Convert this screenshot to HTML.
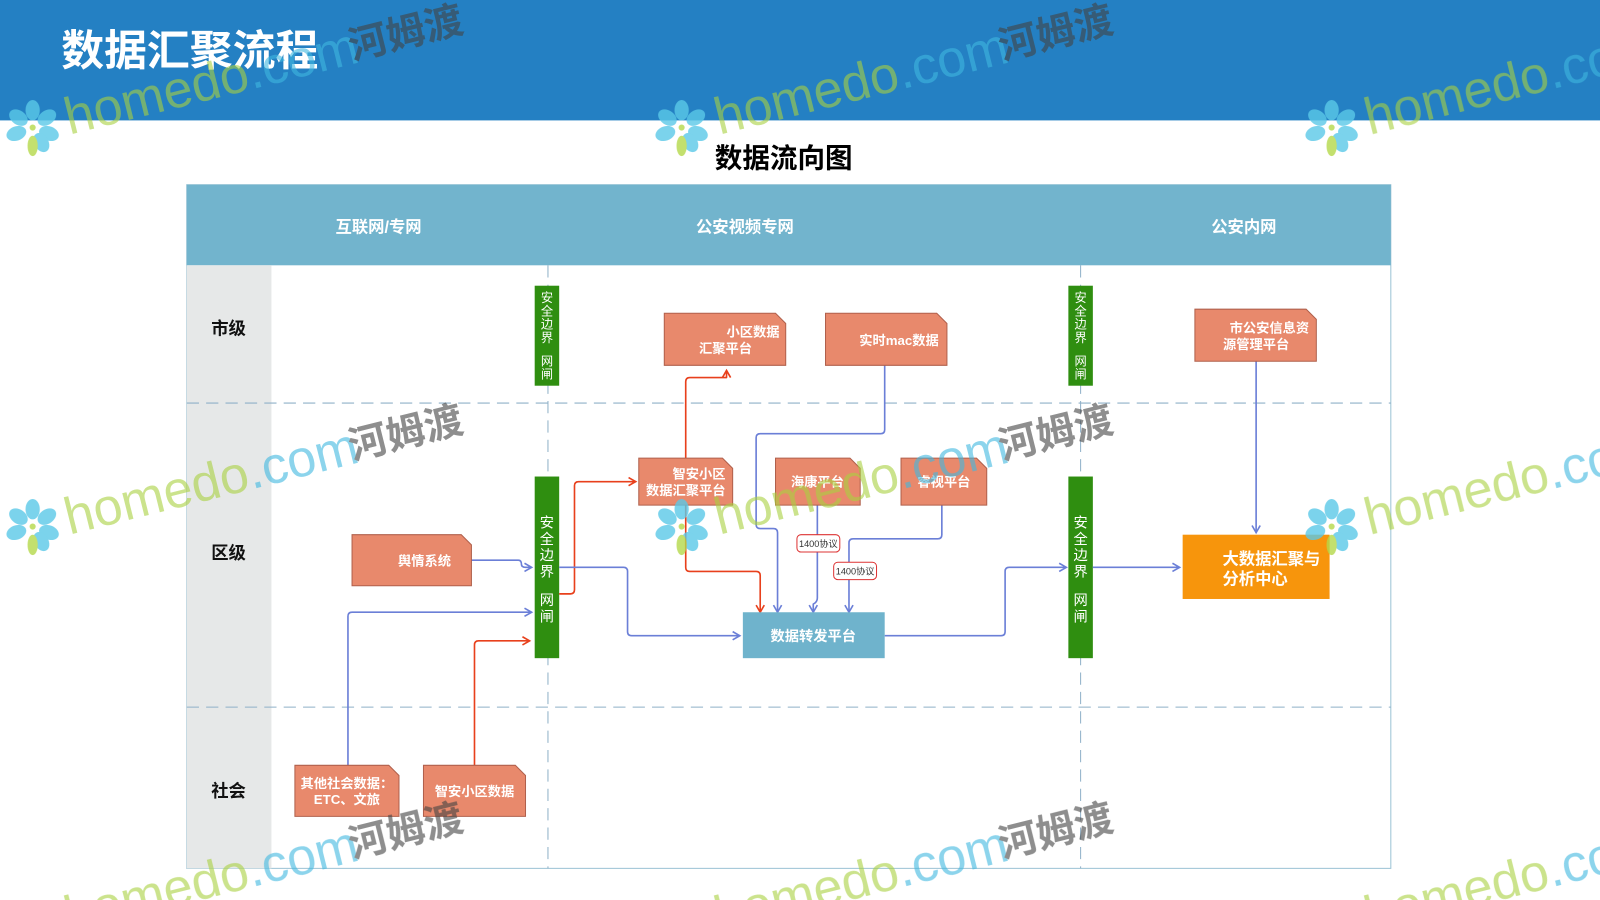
<!DOCTYPE html>
<html><head><meta charset="utf-8"><style>
html,body{margin:0;padding:0;background:#fff;width:1600px;height:900px;overflow:hidden}
svg{display:block}
text{font-family:"Liberation Sans","Noto Sans CJK SC",sans-serif}
</style></head><body>
<svg width="1600" height="900" viewBox="0 0 1568 882" preserveAspectRatio="none" xmlns="http://www.w3.org/2000/svg">
<defs>
<marker id="ab" markerWidth="10" markerHeight="10" refX="8" refY="5" orient="auto" markerUnits="userSpaceOnUse"><path d="M1,1 L8,5 L1,9" fill="none" stroke="#6b7fd7" stroke-width="1.6"/></marker>
<marker id="ar" markerWidth="10" markerHeight="10" refX="8" refY="5" orient="auto" markerUnits="userSpaceOnUse"><path d="M1,1 L8,5 L1,9" fill="none" stroke="#e8401c" stroke-width="1.6"/></marker>
<g id="fl">
<ellipse cx="0" cy="-17" rx="7" ry="10" fill="#5ac8e8"/>
<ellipse cx="0" cy="-17" rx="7" ry="10" fill="#5ac8e8" transform="rotate(55)"/>
<ellipse cx="0" cy="-17" rx="7" ry="10" fill="#5ac8e8" transform="rotate(110)"/>
<ellipse cx="0" cy="-17" rx="7" ry="10" fill="#5ac8e8" transform="rotate(-55)"/>
<ellipse cx="0" cy="-17" rx="7" ry="10" fill="#5ac8e8" transform="rotate(-110)"/>
<ellipse cx="0" cy="-17" rx="7" ry="10" fill="#5ac8e8" transform="rotate(150)"/>
<ellipse cx="0" cy="18" rx="5" ry="10" fill="#b5d94a"/>
<circle cx="0" cy="0" r="3" fill="#b5d94a"/>
</g>
</defs>
<rect x="0" y="0" width="1568" height="118" fill="#2480c3"/>
<text x="60" y="64" font-size="42" font-weight="bold" fill="#fff">数据汇聚流程</text>
<text x="768" y="164" font-size="27" font-weight="bold" fill="#000" text-anchor="middle">数据流向图</text>

<rect x="183" y="181" width="1180" height="670" fill="#fff" stroke="#9cc3d5" stroke-width="1"/>
<rect x="183" y="181" width="1180" height="79" fill="#72b4cd"/>
<rect x="183" y="260" width="83" height="591" fill="#e6e8e8"/>
<g font-size="16" font-weight="bold" fill="#fff" text-anchor="middle">
<text x="371" y="228">互联网/专网</text><text x="730" y="228">公安视频专网</text><text x="1219" y="228">公安内网</text></g>
<g font-size="17" font-weight="bold" fill="#111" text-anchor="middle">
<text x="224" y="328">市级</text><text x="224" y="548">区级</text><text x="224" y="781">社会</text></g>
<g stroke="#8fb0c8" stroke-width="1" stroke-dasharray="12,7" fill="none">
<line x1="183" y1="395" x2="1363" y2="395"/><line x1="183" y1="693" x2="1363" y2="693"/>
<line x1="537" y1="260" x2="537" y2="851"/><line x1="1059" y1="260" x2="1059" y2="851"/></g>

<g fill="#2f8e10">
<rect x="524" y="280" width="24" height="98"/><rect x="524" y="467" width="24" height="178"/>
<rect x="1047" y="280" width="24" height="98"/><rect x="1047" y="467" width="24" height="178"/></g>
<g fill="#fff" font-size="12" text-anchor="middle">
<text x="536" y="296">安</text><text x="536" y="309">全</text><text x="536" y="322">边</text><text x="536" y="335">界</text><text x="536" y="358">网</text><text x="536" y="371">闸</text>
<text x="1059" y="296">安</text><text x="1059" y="309">全</text><text x="1059" y="322">边</text><text x="1059" y="335">界</text><text x="1059" y="358">网</text><text x="1059" y="371">闸</text>
</g>
<g fill="#fff" font-size="14" text-anchor="middle">
<text x="536" y="517">安</text><text x="536" y="533">全</text><text x="536" y="549">边</text><text x="536" y="565">界</text><text x="536" y="593">网</text><text x="536" y="609">闸</text>
<text x="1059" y="517">安</text><text x="1059" y="533">全</text><text x="1059" y="549">边</text><text x="1059" y="565">界</text><text x="1059" y="593">网</text><text x="1059" y="609">闸</text>
</g>

<g fill="none" stroke-width="1.6" stroke-linejoin="round">
<path d="M462,549 H508 Q511,549 511,553 Q511,556 515,556 H521" stroke="#6b7fd7" marker-end="url(#ab)"/>
<path d="M341,750 V604 Q341,600 345,600 H521" stroke="#6b7fd7" marker-end="url(#ab)"/>
<path d="M465,750 V632 Q465,628 469,628 H519" stroke="#e8401c" marker-end="url(#ar)"/>
<path d="M548,582 H559 Q563,582 563,578 V476 Q563,472 567,472 H623" stroke="#e8401c" marker-end="url(#ar)"/>
<path d="M672,449 V374 Q672,370 676,370 H712 V363" stroke="#e8401c" marker-end="url(#ar)"/>
<path d="M672,495 V556 Q672,560 676,560 H741 Q745,560 745,564 V600" stroke="#e8401c" marker-end="url(#ar)"/>
<path d="M548,556 H611 Q615,556 615,560 V619 Q615,623 619,623 H725" stroke="#6b7fd7" marker-end="url(#ab)"/>
<path d="M867,358 V421 Q867,425 863,425 H745 Q741,425 741,429 V514 Q741,518 745,518 H758 Q762,518 762,522 V600" stroke="#6b7fd7" marker-end="url(#ab)"/>
<path d="M801,495 V586 Q801,590 797,592 V600" stroke="#6b7fd7" marker-end="url(#ab)"/>
<path d="M923,495 V524 Q923,528 919,528 H836 Q832,528 832,532 V600" stroke="#6b7fd7" marker-end="url(#ab)"/>
<path d="M867,623 H981 Q985,623 985,619 V560 Q985,556 989,556 H1045" stroke="#6b7fd7" marker-end="url(#ab)"/>
<path d="M1071,556 H1156" stroke="#6b7fd7" marker-end="url(#ab)"/>
<path d="M1231,354 V522" stroke="#6b7fd7" marker-end="url(#ab)"/>
</g>
<g font-size="9" text-anchor="middle" fill="#333">
<rect x="781" y="524" width="42" height="17" rx="4" fill="#fff" stroke="#d33" stroke-width="1"/><text x="802" y="536">1400协议</text>
<rect x="817" y="551" width="42" height="17" rx="4" fill="#fff" stroke="#d33" stroke-width="1"/><text x="838" y="563">1400协议</text>
</g>

<g fill="#e8896c" stroke="#b0604c" stroke-width="1">
<path d="M651,307 H760 L770,317 V358 H651 Z"/>
<path d="M809,307 H918 L928,317 V358 H809 Z"/>
<path d="M1171,303 H1280 L1290,313 V354 H1171 Z"/>
<path d="M626,449 H708 L718,459 V495 H626 Z"/>
<path d="M760,449 H833 L843,459 V495 H760 Z"/>
<path d="M883,449 H957 L967,459 V495 H883 Z"/>
<path d="M345,524 H452 L462,534 V574 H345 Z"/>
<path d="M289,750 H381 L391,760 V800 H289 Z"/>
<path d="M415,750 H505 L515,760 V800 H415 Z"/>
</g>
<g font-size="13" font-weight="bold" fill="#fff" text-anchor="middle">
<text x="738" y="330">小区数据</text><text x="711" y="346">汇聚平台</text>
<text x="881" y="338">实时mac数据</text>
<text x="1244" y="326">市公安信息资</text><text x="1231" y="342">源管理平台</text>
<text x="685" y="469">智安小区</text><text x="672" y="485">数据汇聚平台</text>
<text x="801" y="477">海康平台</text>
<text x="925" y="477">睿视平台</text>
<text x="416" y="554">舆情系统</text>
<text x="340" y="772">其他社会数据：</text><text x="340" y="788">ETC、文旅</text>
<text x="465" y="780">智安小区数据</text>
</g>
<rect x="728" y="600" width="139" height="45" fill="#6fb3cc"/>
<text x="797" y="628" font-size="14" font-weight="bold" fill="#fff" text-anchor="middle">数据转发平台</text>
<rect x="1159" y="524" width="144" height="63" fill="#f7950c"/>
<g font-size="16" font-weight="bold" fill="#fff"><text x="1198" y="553">大数据汇聚与</text><text x="1198" y="573">分析中心</text></g>

<g font-size="51" opacity="0.6">
<g transform="rotate(-14 68 132)"><text x="68" y="132" fill="#a8d040">homedo<tspan fill="#40b8e0">.com</tspan></text><text x="355" y="128" font-size="38" font-weight="bold" fill="#444">河姆渡</text></g>
<g transform="rotate(-14 705 132)"><text x="705" y="132" fill="#a8d040">homedo<tspan fill="#40b8e0">.com</tspan></text><text x="992" y="128" font-size="38" font-weight="bold" fill="#444">河姆渡</text></g>
<g transform="rotate(-14 1342 132)"><text x="1342" y="132" fill="#a8d040">homedo<tspan fill="#40b8e0">.com</tspan></text></g>
<g transform="rotate(-14 68 524)"><text x="68" y="524" fill="#a8d040">homedo<tspan fill="#40b8e0">.com</tspan></text><text x="355" y="520" font-size="38" font-weight="bold" fill="#444">河姆渡</text></g>
<g transform="rotate(-14 705 524)"><text x="705" y="524" fill="#a8d040">homedo<tspan fill="#40b8e0">.com</tspan></text><text x="992" y="520" font-size="38" font-weight="bold" fill="#444">河姆渡</text></g>
<g transform="rotate(-14 1342 524)"><text x="1342" y="524" fill="#a8d040">homedo<tspan fill="#40b8e0">.com</tspan></text></g>
<g transform="rotate(-14 68 914)"><text x="68" y="914" fill="#a8d040">homedo<tspan fill="#40b8e0">.com</tspan></text><text x="355" y="910" font-size="38" font-weight="bold" fill="#444">河姆渡</text></g>
<g transform="rotate(-14 705 914)"><text x="705" y="914" fill="#a8d040">homedo<tspan fill="#40b8e0">.com</tspan></text><text x="992" y="910" font-size="38" font-weight="bold" fill="#444">河姆渡</text></g>
<g transform="rotate(-14 1342 914)"><text x="1342" y="914" fill="#a8d040">homedo<tspan fill="#40b8e0">.com</tspan></text></g>
</g>
<g opacity="0.8">
<use href="#fl" x="32" y="125"/><use href="#fl" x="668" y="125"/><use href="#fl" x="1305" y="125"/>
<use href="#fl" x="32" y="516"/><use href="#fl" x="668" y="516"/><use href="#fl" x="1305" y="516"/>
</g>
</svg>
</body></html>
